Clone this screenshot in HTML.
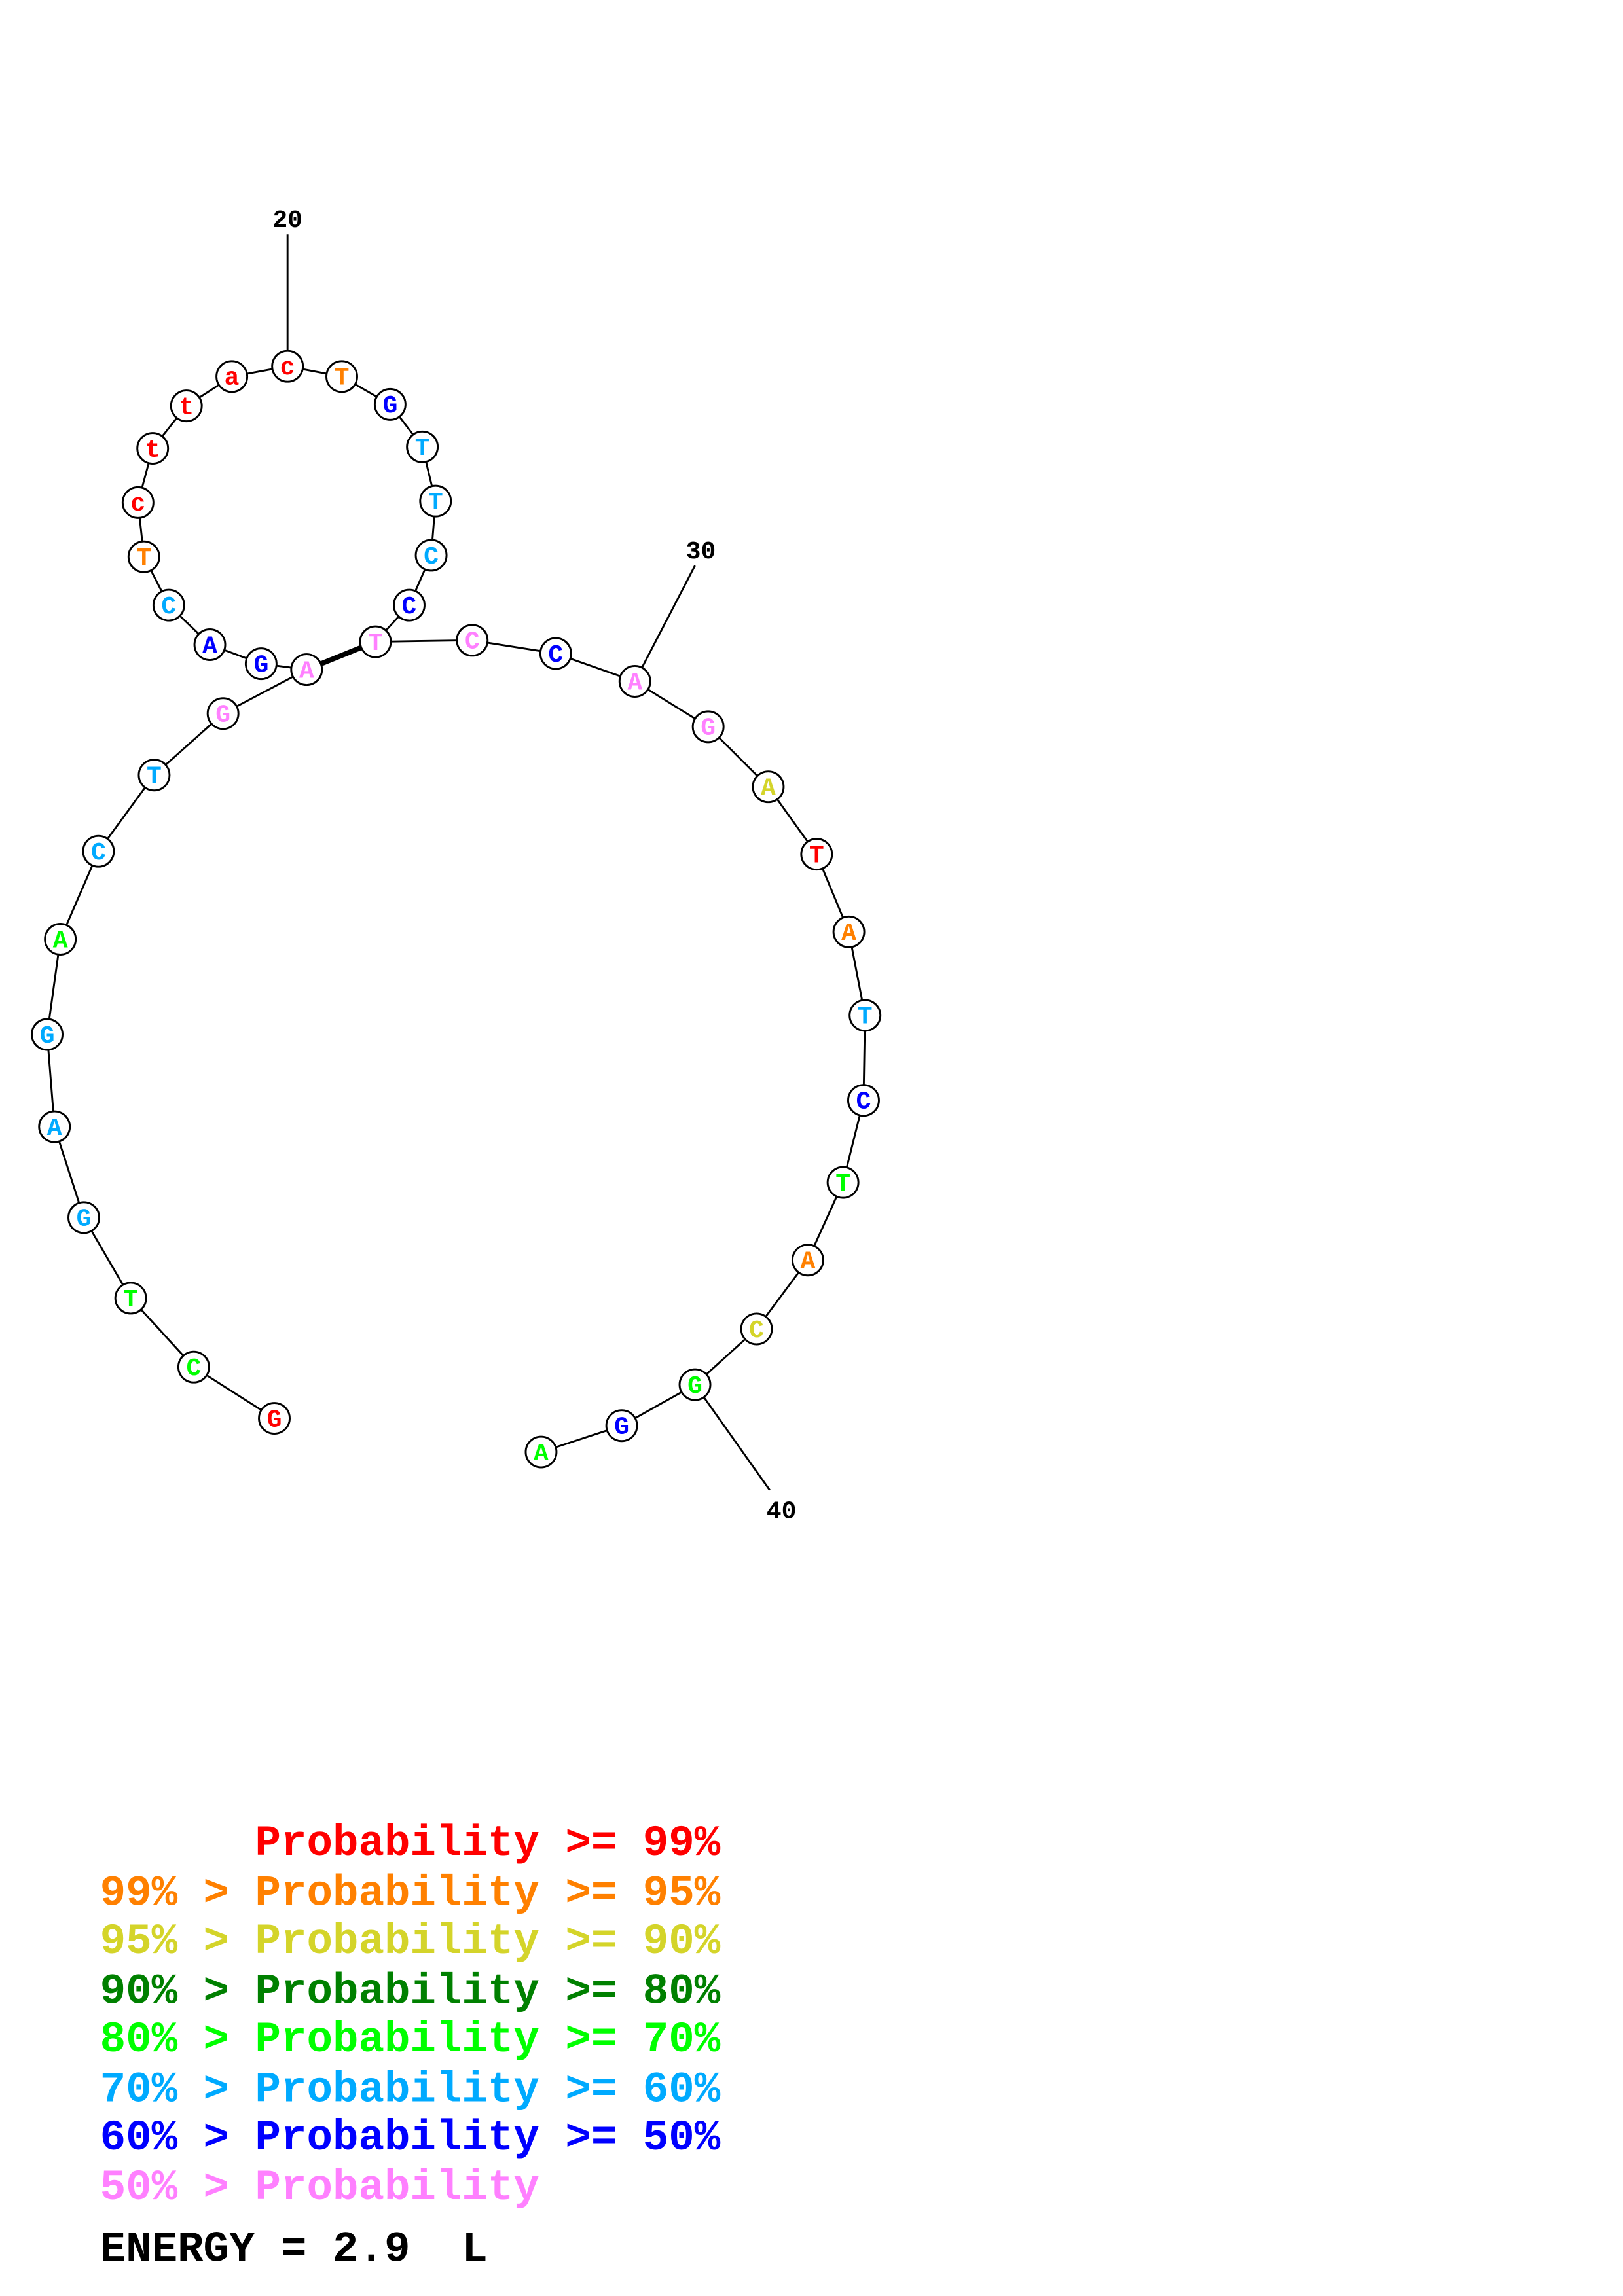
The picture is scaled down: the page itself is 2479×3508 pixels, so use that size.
<!DOCTYPE html>
<html><head><meta charset="utf-8"><style>
html,body{margin:0;padding:0;background:#fff;}
svg{display:block;}
</style></head><body>
<svg xmlns="http://www.w3.org/2000/svg" width="2479" height="3508" viewBox="0 0 1107 1567">
<rect width="1107" height="1567" fill="#fff"/>
<g stroke="#000" stroke-width="1.3" fill="none">
<line x1="196" y1="160" x2="196" y2="250"/>
<line x1="433" y1="465" x2="474" y2="386"/>
<line x1="474" y1="945" x2="525" y2="1017"/>
<polyline points="196,250 158,257 127,277 104,306 94,343 98,380 115,413 143,440 178,453 209,457"/>
<polyline points="256,438 279,413 294,379 297,342 288,305 266,276 233,257 196,250"/>
<polyline points="256,438 322,437 379,446 433,465 483,496 524,537 557,583 579,636 590,693 589,751 575,807 551,860 516,907 474,945 424,973 369,991"/>
<polyline points="209,457 152,487 105,529 67,581 41,641 32,706 37,769 57,831 89,886 132,933 187,968"/>
<line x1="209" y1="457" x2="256" y2="438" stroke-width="3.5"/>
</g>
<g font-family="'Liberation Mono',monospace" font-weight="bold" font-size="17" text-anchor="middle">
<text x="196" y="155">20</text>
<text x="478" y="381">30</text>
<text x="533" y="1036">40</text>
</g>
<g fill="#fff" stroke="#000" stroke-width="1.3">
<circle cx="196" cy="250" r="10.5"/><circle cx="158" cy="257" r="10.5"/><circle cx="127" cy="277" r="10.5"/><circle cx="104" cy="306" r="10.5"/><circle cx="94" cy="343" r="10.5"/><circle cx="98" cy="380" r="10.5"/><circle cx="115" cy="413" r="10.5"/><circle cx="143" cy="440" r="10.5"/><circle cx="178" cy="453" r="10.5"/><circle cx="209" cy="457" r="10.5"/>
<circle cx="256" cy="438" r="10.5"/><circle cx="279" cy="413" r="10.5"/><circle cx="294" cy="379" r="10.5"/><circle cx="297" cy="342" r="10.5"/><circle cx="288" cy="305" r="10.5"/><circle cx="266" cy="276" r="10.5"/><circle cx="233" cy="257" r="10.5"/>
<circle cx="322" cy="437" r="10.5"/><circle cx="379" cy="446" r="10.5"/><circle cx="433" cy="465" r="10.5"/><circle cx="483" cy="496" r="10.5"/><circle cx="524" cy="537" r="10.5"/><circle cx="557" cy="583" r="10.5"/><circle cx="579" cy="636" r="10.5"/><circle cx="590" cy="693" r="10.5"/><circle cx="589" cy="751" r="10.5"/><circle cx="575" cy="807" r="10.5"/><circle cx="551" cy="860" r="10.5"/><circle cx="516" cy="907" r="10.5"/><circle cx="474" cy="945" r="10.5"/><circle cx="424" cy="973" r="10.5"/><circle cx="369" cy="991" r="10.5"/>
<circle cx="152" cy="487" r="10.5"/><circle cx="105" cy="529" r="10.5"/><circle cx="67" cy="581" r="10.5"/><circle cx="41" cy="641" r="10.5"/><circle cx="32" cy="706" r="10.5"/><circle cx="37" cy="769" r="10.5"/><circle cx="57" cy="831" r="10.5"/><circle cx="89" cy="886" r="10.5"/><circle cx="132" cy="933" r="10.5"/><circle cx="187" cy="968" r="10.5"/>
</g>
<g font-family="'Liberation Mono',monospace" font-weight="bold" font-size="17" text-anchor="middle">
<text x="196" y="255.5" fill="#ff0000">c</text>
<text x="158" y="262.5" fill="#ff0000">a</text>
<text x="127" y="282.5" fill="#ff0000">t</text>
<text x="104" y="311.5" fill="#ff0000">t</text>
<text x="94" y="348.5" fill="#ff0000">c</text>
<text x="98" y="385.5" fill="#ff8000">T</text>
<text x="115" y="418.5" fill="#00aaff">C</text>
<text x="143" y="445.5" fill="#0000ff">A</text>
<text x="178" y="458.5" fill="#0000ff">G</text>
<text x="209" y="462.5" fill="#ff80ff">A</text>
<text x="256" y="443.5" fill="#ff80ff">T</text>
<text x="279" y="418.5" fill="#0000ff">C</text>
<text x="294" y="384.5" fill="#00aaff">C</text>
<text x="297" y="347.5" fill="#00aaff">T</text>
<text x="288" y="310.5" fill="#00aaff">T</text>
<text x="266" y="281.5" fill="#0000ff">G</text>
<text x="233" y="262.5" fill="#ff8000">T</text>
<text x="322" y="442.5" fill="#ff80ff">C</text>
<text x="379" y="451.5" fill="#0000ff">C</text>
<text x="433" y="470.5" fill="#ff80ff">A</text>
<text x="483" y="501.5" fill="#ff80ff">G</text>
<text x="524" y="542.5" fill="#d4d42a">A</text>
<text x="557" y="588.5" fill="#ff0000">T</text>
<text x="579" y="641.5" fill="#ff8000">A</text>
<text x="590" y="698.5" fill="#00aaff">T</text>
<text x="589" y="756.5" fill="#0000ff">C</text>
<text x="575" y="812.5" fill="#00ff00">T</text>
<text x="551" y="865.5" fill="#ff8000">A</text>
<text x="516" y="912.5" fill="#d4d42a">C</text>
<text x="474" y="950.5" fill="#00ff00">G</text>
<text x="424" y="978.5" fill="#0000ff">G</text>
<text x="369" y="996.5" fill="#00ff00">A</text>
<text x="152" y="492.5" fill="#ff80ff">G</text>
<text x="105" y="534.5" fill="#00aaff">T</text>
<text x="67" y="586.5" fill="#00aaff">C</text>
<text x="41" y="646.5" fill="#00ff00">A</text>
<text x="32" y="711.5" fill="#00aaff">G</text>
<text x="37" y="774.5" fill="#00aaff">A</text>
<text x="57" y="836.5" fill="#00aaff">G</text>
<text x="89" y="891.5" fill="#00ff00">T</text>
<text x="132" y="938.5" fill="#00ff00">C</text>
<text x="187" y="973.5" fill="#ff0000">G</text>
</g>
<g font-family="'Liberation Mono',monospace" font-weight="bold" font-size="29.4">
<text x="68" y="1266" fill="#ff0000">&#160;&#160;&#160;&#160;&#160;&#160;Probability &gt;= 99%</text>
<text x="68" y="1300" fill="#ff8000">99% &gt; Probability &gt;= 95%</text>
<text x="68" y="1333" fill="#d4d42a">95% &gt; Probability &gt;= 90%</text>
<text x="68" y="1367" fill="#008000">90% &gt; Probability &gt;= 80%</text>
<text x="68" y="1400" fill="#00ff00">80% &gt; Probability &gt;= 70%</text>
<text x="68" y="1434" fill="#00aaff">70% &gt; Probability &gt;= 60%</text>
<text x="68" y="1467" fill="#0000ff">60% &gt; Probability &gt;= 50%</text>
<text x="68" y="1501" fill="#ff80ff">50% &gt; Probability</text>
<text x="68" y="1543" fill="#000">ENERGY = 2.9&#160;&#160;L</text>
</g>
</svg>
</body></html>
